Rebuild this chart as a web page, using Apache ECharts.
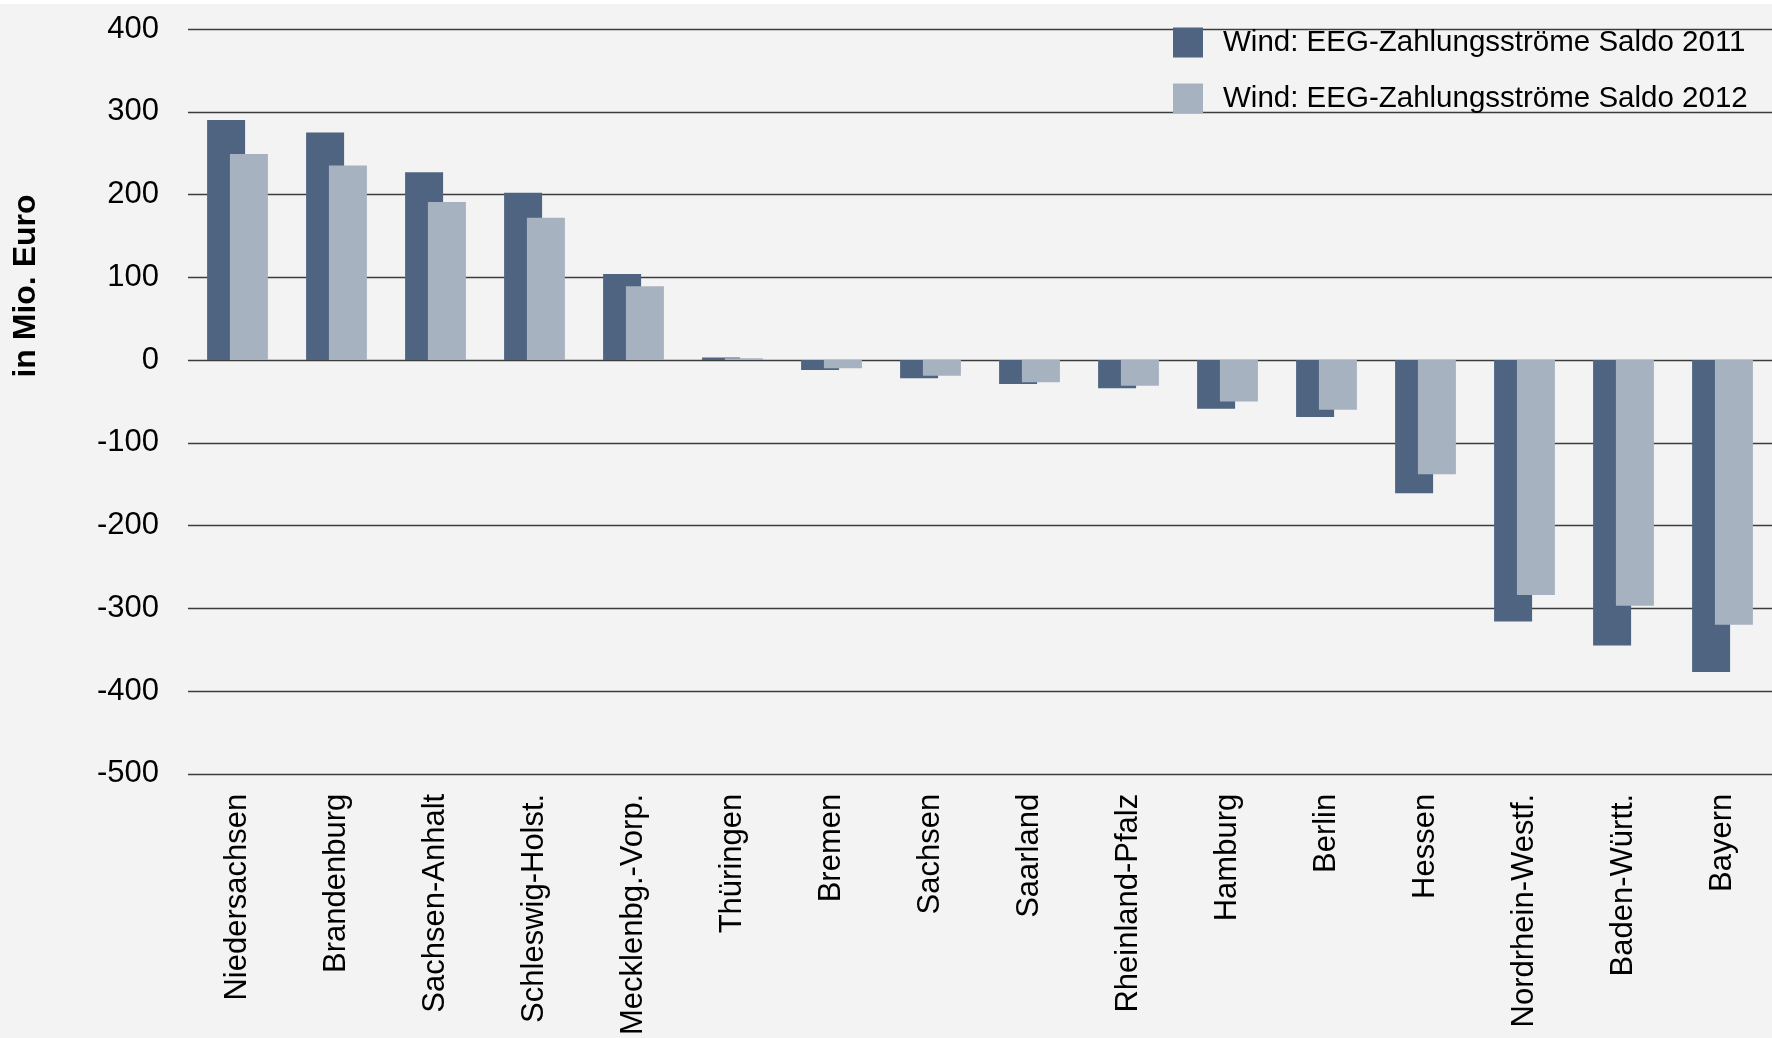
<!DOCTYPE html>
<html>
<head>
<meta charset="utf-8">
<script src="https://cdn.jsdelivr.net/npm/echarts@6/dist/echarts.min.js"></script>
<style>
html,body{margin:0;padding:0;background:#f3f3f3;}
#chart{width:1772px;height:1038px;}
</style>
</head>
<body>
<div id="chart"></div>
<script>
const categories = ["Niedersachsen","Brandenburg","Sachsen-Anhalt","Schleswig-Holst.","Mecklenbg.-Vorp.","Thüringen","Bremen","Sachsen","Saarland","Rheinland-Pfalz","Hamburg","Berlin","Hessen","Nordrhein-Westf.","Baden-Württ.","Bayern"];
const saldo2011 = [290, 275, 227, 202, 104, 3, -12, -22, -29, -34, -59, -69, -161, -316, -345, -377];
const saldo2012 = [249, 235, 191, 172, 89, 2, -10, -19, -27, -31, -50, -60, -138, -284, -297, -320];
const seriesNames = ["Wind: EEG-Zahlungsströme Saldo 2011", "Wind: EEG-Zahlungsströme Saldo 2012"];
const yAxisTitle = "in Mio. Euro";

const FONT = '"Liberation Sans", Arial, sans-serif';
const chart = echarts.init(document.getElementById('chart'), null, {renderer: 'canvas'});
chart.setOption({
  backgroundColor: '#f3f3f3',
  animation: false,
  textStyle: {fontFamily: FONT},
  graphic: [
    {type: 'rect', left: 0, top: 0, shape: {width: 1772, height: 4}, style: {fill: '#ffffff'}, silent: true},
    {type: 'text', x: 26.5, y: 286, rotation: Math.PI / 2, style: {text: yAxisTitle, font: 'bold 32px ' + FONT, fill: '#000', align: 'center', verticalAlign: 'middle'}}
  ],
  legend: {
    orient: 'vertical',
    left: 1173,
    top: 21,
    padding: 0,
    itemWidth: 30,
    itemHeight: 30,
    itemGap: 18,
    icon: 'rect',
    selectedMode: false,
    textStyle: {fontFamily: FONT, fontSize: 29.5, color: '#000', lineHeight: 30},
    data: [
      {name: seriesNames[0], textStyle: {padding: [13, 0, 0, 15]}},
      {name: seriesNames[1], textStyle: {padding: [0, 0, 3, 15]}}
    ]
  },
  grid: {left: 188, top: 29, width: 1590, height: 745.5, containLabel: false},
  xAxis: {
    type: 'category',
    data: categories,
    axisLine: {show: false},
    axisTick: {show: false},
    axisLabel: {rotate: 90, margin: 20, fontFamily: FONT, fontSize: 31, color: '#000', interval: 0}
  },
  yAxis: {
    type: 'value',
    min: -500, max: 400, interval: 100,
    axisLine: {show: false},
    axisTick: {show: false},
    axisLabel: {margin: 29, fontFamily: FONT, fontSize: 31, color: '#000'},
    splitLine: {show: true, lineStyle: {color: '#3c3c3c', width: 1.4}}
  },
  series: [
    {name: seriesNames[0], type: 'bar', data: saldo2011, barWidth: 38, barGap: '-40%', itemStyle: {color: '#4e6480'}},
    {name: seriesNames[1], type: 'bar', data: saldo2012, barWidth: 38, barGap: '-40%', itemStyle: {color: '#a7b2c0'}}
  ]
});
</script>
</body>
</html>
